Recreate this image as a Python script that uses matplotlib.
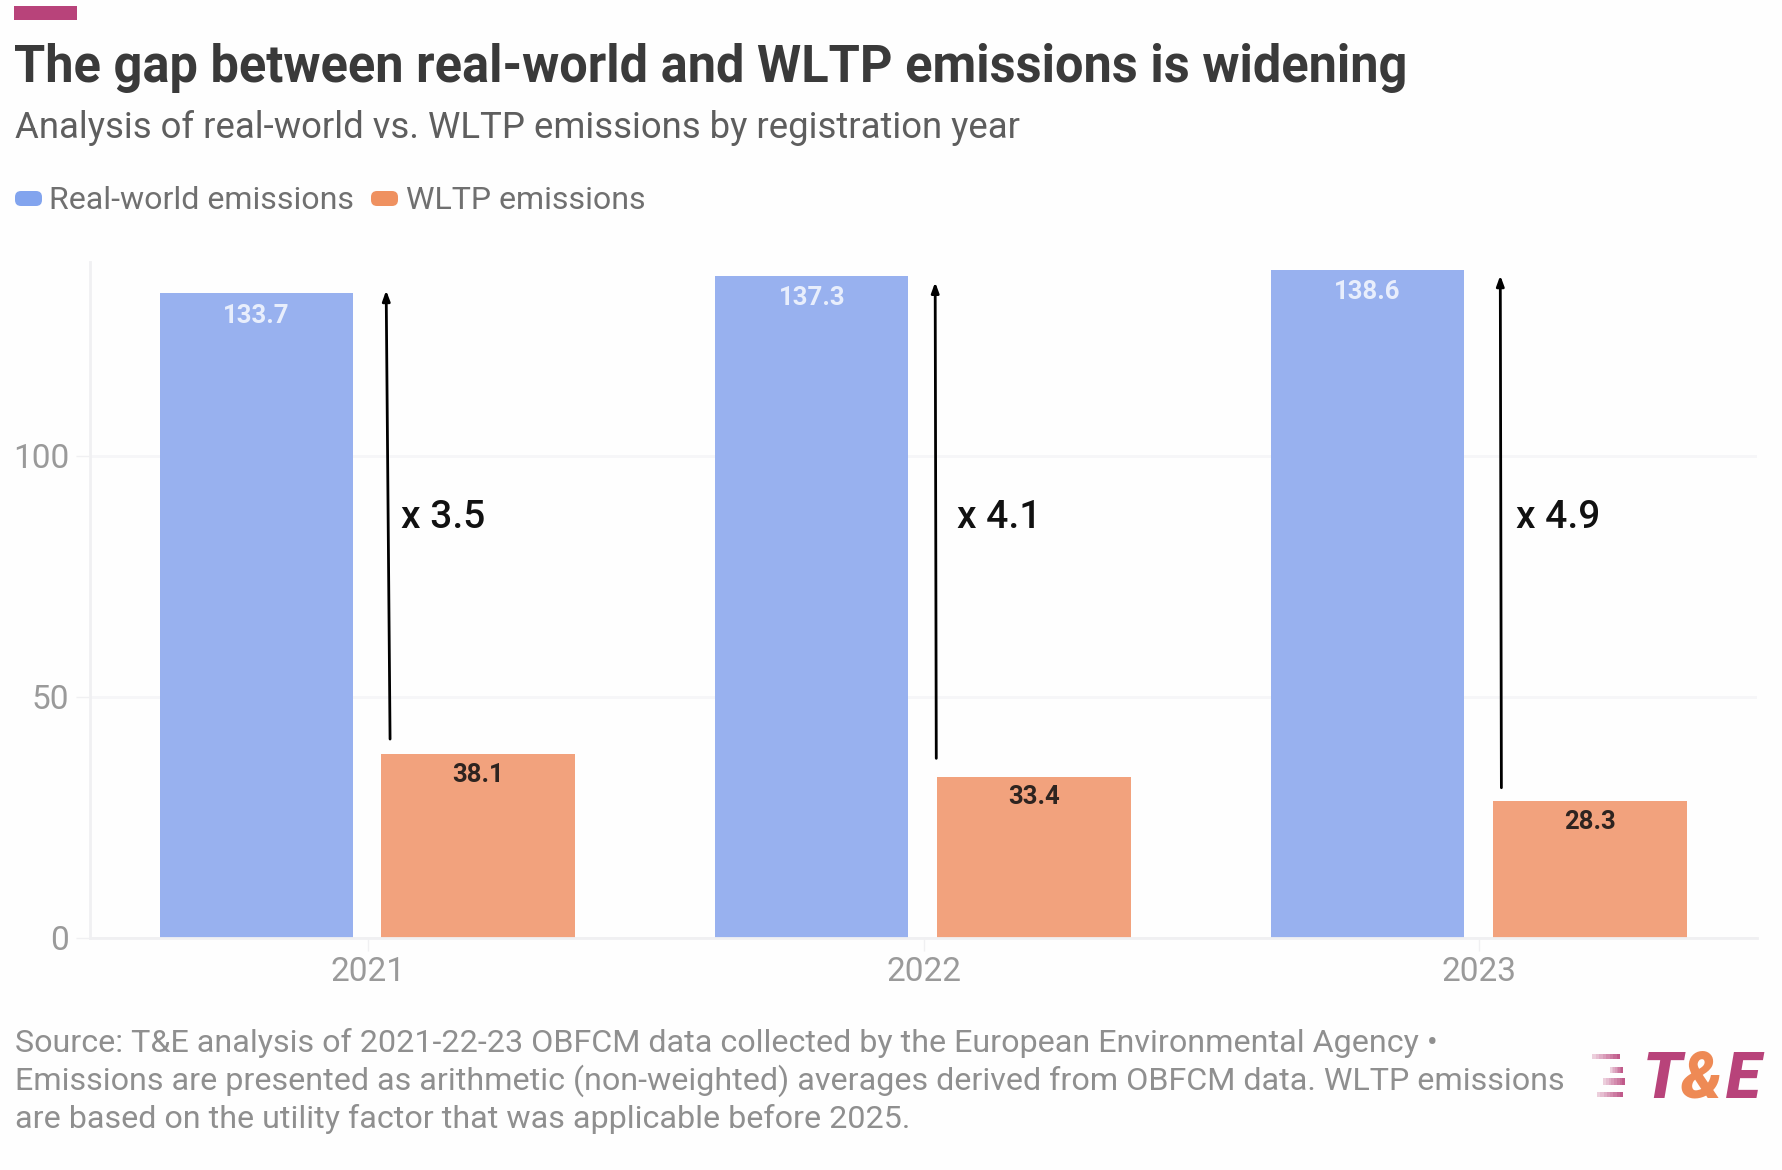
#!/usr/bin/env python3
"""
Real-world vs. WLTP emissions by registration year, grouped bars with gap arrows.
"""

import matplotlib
matplotlib.use("Agg")
import matplotlib.pyplot as plt
import numpy as np
from matplotlib.patches import FancyBboxPatch, Rectangle
from matplotlib.transforms import IdentityTransform

W, H = 1782, 1170

years = ["2021", "2022", "2023"]
real_world = [133.7, 137.3, 138.6]
wltp = [38.1, 33.4, 28.3]
gap_labels = ["x 3.5", "x 4.1", "x 4.9"]
arrow_tail_x = [0.040, 1.023, 2.040]
arrow_head_x = [0.033, 1.021, 2.038]
arrow_tail_y = [41.2, 37.2, 31.1]
arrow_head_y = [134.3, 136.0, 137.4]
gap_label_x = [0.060, 1.060, 2.066]
yticks = [0, 50, 100]

title = "The gap between real-world and WLTP emissions is widening"
subtitle = "Analysis of real-world vs. WLTP emissions by registration year"
source_lines = [
    "Source: T&E analysis of 2021-22-23 OBFCM data collected by the European Environmental Agency •",
    "Emissions are presented as arithmetic (non-weighted) averages derived from OBFCM data. WLTP emissions",
    "are based on the utility factor that was applicable before 2025.",
]

BLUE = "#98b1ef"
ORANGE = "#f2a27d"
MAGENTA = "#b8437a"
LOGO_ORANGE = "#ee8a55"

plt.rcParams["font.family"] = ["Roboto", "DejaVu Sans"]


def fx(x):
    return x / W


def fy(y):
    return 1 - y / H


def put(x, y, s, **kw):
    kw.setdefault("va", "baseline")
    return fig.text(fx(x), fy(y), s, **kw)


def box(x0, y0, x1, y1, color, alpha=1.0):
    fig.add_artist(Rectangle((fx(x0), fy(y1)), fx(x1 - x0), (y1 - y0) / H,
                             transform=fig.transFigure, color=color, alpha=alpha, lw=0))


fig = plt.figure(figsize=(W / 100, H / 100), dpi=100, facecolor="#fefefe")
ax = fig.add_axes([fx(90), fy(937.6), fx(1757 - 90), (937.6 - 262) / H])
ax.set_facecolor("none")

x = np.arange(len(years))
ax.bar(x - 0.201, real_world, width=0.347, color=BLUE, zorder=2)
ax.bar(x + 0.199, wltp, width=0.349, color=ORANGE, zorder=2)

for i in x:
    ax.annotate(f"{real_world[i]}", (i - 0.201, real_world[i]), xytext=(0, -16), textcoords="offset points",
                ha="center", va="center", fontsize=18.5, fontweight="bold", color="#e8eefc", zorder=3)
    ax.annotate(f"{wltp[i]}", (i + 0.199, wltp[i]), xytext=(0, -15), textcoords="offset points",
                ha="center", va="center", fontsize=18.5, fontweight="bold", color="#2e2420", zorder=3)
    ax.annotate("", xy=(arrow_head_x[i], arrow_head_y[i]), xytext=(arrow_tail_x[i], arrow_tail_y[i]),
                arrowprops=dict(arrowstyle="-|>,head_length=0.6,head_width=0.22", color="black", lw=2,
                                shrinkA=0, shrinkB=0), zorder=4)
    ax.text(gap_label_x[i], 87.1, gap_labels[i], fontsize=28, fontweight="medium", color="#111111",
            ha="left", va="center", zorder=4)

ax.set_xlim(-0.5, 2.5)
ax.set_ylim(0, 140.2)
ax.set_xticks(x, labels=years)
ax.set_yticks(yticks)
ax.tick_params(axis="x", length=9, width=1, color="#f0f0f2", labelsize=24, labelcolor="#9a9a9a", pad=4)
ax.tick_params(axis="y", length=10, width=1, color="#f0f0f2", labelsize=24, labelcolor="#9a9a9a", pad=5)
ax.grid(axis="y", color="#f6f6f8", lw=2, zorder=0)
ax.set_axisbelow(True)
for side in ["top", "right"]:
    ax.spines[side].set_visible(False)
for side in ["left", "bottom"]:
    ax.spines[side].set_color("#f0f0f2")
    ax.spines[side].set_linewidth(2)

# header
box(14, 6, 77, 20, MAGENTA)
put(14, 82, title, fontsize=36.4, fontweight="bold", color="#3a3a3a")
put(15, 138, subtitle, fontsize=26.25, color="#5e5e5e")

# legend
for x0, color, label, tx in [(15, "#82a4ee", "Real-world emissions", 49),
                             (371, "#ef9160", "WLTP emissions", 406)]:
    fig.add_artist(FancyBboxPatch((x0 + 6, H - 206 + 6), 15, 3, boxstyle="round,pad=6,rounding_size=6",
                                  transform=IdentityTransform(), color=color, lw=0))
    put(tx, 209, label, fontsize=23.1, color="#707070")

# source
for y, line in zip([1052, 1090, 1128], source_lines):
    put(15, y, line, fontsize=23.2, color="#8f8f8f")

# logo
stripes = [(1592, 1620, 1054, 1059), (1610, 1623, 1067, 1073), (1603, 1625, 1078, 1085), (1597, 1623, 1092, 1097)]
for x0, x1, y0, y1 in stripes:
    steps = np.linspace(x0, x1, 9)
    for k in range(8):
        box(steps[k], y0, steps[k + 1], y1, MAGENTA, alpha=0.25 + 0.09 * k)
put(1643, 1098, "T", fontsize=46, fontweight=900, style="italic", color=MAGENTA)
put(1681, 1098, "&", fontsize=46, fontweight=900, style="italic", color=LOGO_ORANGE)
put(1726, 1098, "E", fontsize=46, fontweight=900, style="italic", color=MAGENTA)

fig.savefig("out.png", dpi=100, facecolor=fig.get_facecolor())
plt.close(fig)
